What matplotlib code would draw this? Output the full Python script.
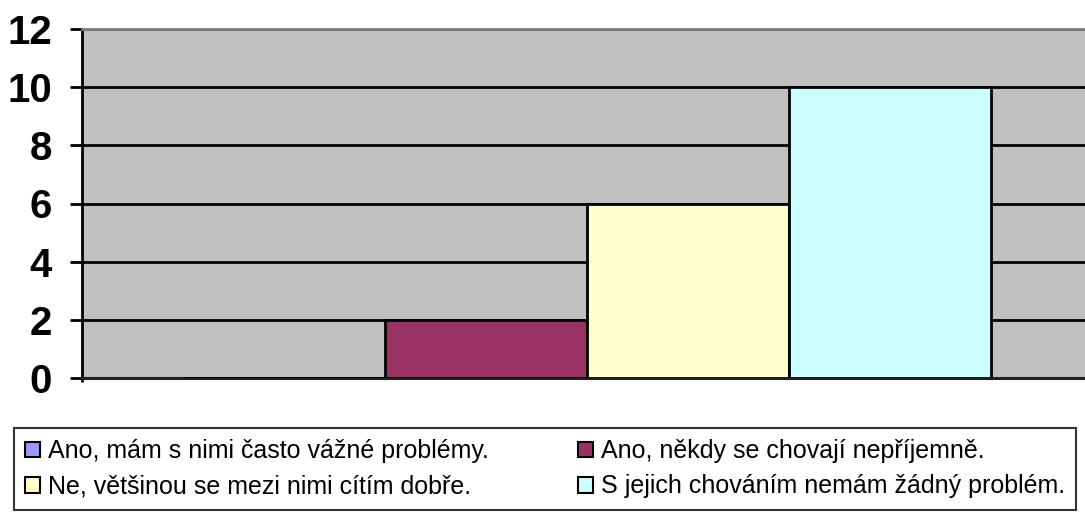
import numpy as np
import matplotlib.pyplot as plt

plt.rcParams['font.family'] = ['Liberation Sans', 'DejaVu Sans']

series = [
    "Ano, mám s nimi často vážné problémy.",
    "Ano, někdy se chovají nepříjemně.",
    "Ne, většinou se mezi nimi cítím dobře.",
    "S jejich chováním nemám žádný problém.",
]
values = [0, 2, 6, 10]
colors = ['#9999FF', '#993366', '#FFFFCC', '#CCFFFF']
yticks = [0, 2, 4, 6, 8, 10, 12]

fig = plt.figure(figsize=(10.85, 5.12), dpi=100)
ax = fig.add_axes([82 / 1085, 1 - 378 / 512, 1010 / 1085, 349 / 512])
ax.set_facecolor('#C0C0C0')

pos = np.arange(len(values)) - 1.5
bars = []
for x, v, c, lab in zip(pos, values, colors, series):
    b = ax.bar(x, v, width=1.0, color=c, edgecolor='black', linewidth=2,
               label=lab, zorder=3)
    bars.append(b)

ax.set_xlim(-2.5, 2.5)
ax.set_ylim(0, 12)
ax.set_yticks(yticks)
ax.set_yticklabels([str(t) for t in yticks], fontsize=29, fontweight='bold')
ax.tick_params(axis='y', length=8.6, width=2, pad=13, direction='out')
ax.set_xticks([-2.5])
ax.set_xticklabels([])
ax.tick_params(axis='x', length=3, width=2)

ax.set_axisbelow(True)
ax.yaxis.grid(True, color='black', linewidth=2, zorder=1)

ax.spines['top'].set_color('#808080')
ax.spines['top'].set_linewidth(2)
ax.spines['right'].set_visible(False)
ax.spines['left'].set_linewidth(2)
ax.spines['bottom'].set_linewidth(2.2)
ax.spines['bottom'].set_color('#202020')

# legend rows: blue/maroon, yellow/cyan
order = [0, 2, 1, 3]
top = 1 - 428 / 512
leg = fig.legend([bars[i] for i in order], [series[i] for i in order],
                 loc='upper left', ncol=2, mode='expand',
                 bbox_to_anchor=(14 / 1085, top - 0.3, 1062 / 1085, 0.3),
                 fontsize=18, handlelength=0.6, handleheight=0.6,
                 handletextpad=0.32, labelspacing=0.45, borderpad=0.45,
                 borderaxespad=0, fancybox=False, frameon=True)
leg.get_frame().set_edgecolor('black')
leg.get_frame().set_linewidth(1.5)
for h in leg.legend_handles:
    h.set_linewidth(1.5)

fig.savefig('out.png', dpi=100)
